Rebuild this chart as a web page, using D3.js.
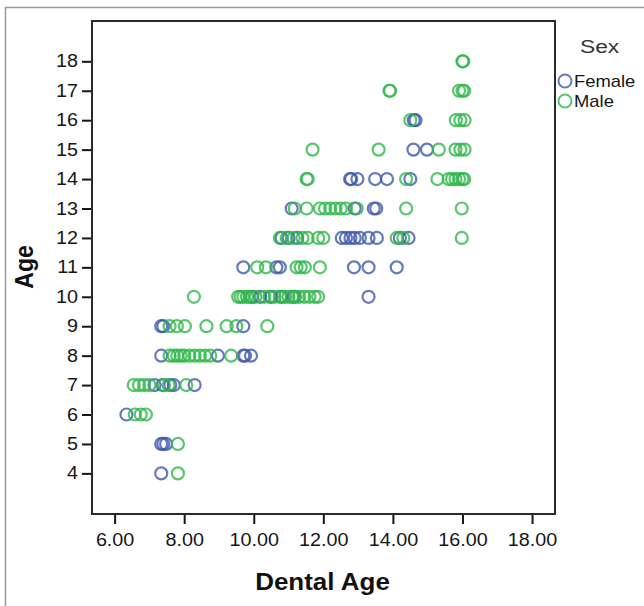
<!DOCTYPE html>
<html>
<head>
<meta charset="utf-8">
<script src="https://cdn.jsdelivr.net/npm/d3@7"></script>
<style>
  html, body { margin: 0; padding: 0; background: #fff; }
  svg { display: block; }
</style>
</head>
<body>
<svg id="chart" width="644" height="606"></svg>
<script>
// Dental age versus chronological age, split by sex
const xTicks = [6, 8, 10, 12, 14, 16, 18];
const yTicks = [4, 5, 6, 7, 8, 9, 10, 11, 12, 13, 14, 15, 16, 17, 18];
const sexLabels = ["Female", "Male"];

const femaleAge = [
  4,
  5, 5, 5,
  6,
  7, 7, 7, 7, 7,
  8, 8, 8, 8, 8,
  9, 9, 9,
  10, 10, 10, 10, 10, 10,
  11, 11, 11, 11, 11, 11,
  12, 12, 12, 12, 12, 12, 12, 12, 12, 12, 12, 12,
  13, 13, 13, 13,
  14, 14, 14, 14, 14, 14,
  15, 15,
  16, 16
];
const femaleDental = [
  7.34,
  7.34, 7.40, 7.48,
  6.34,
  7.15, 7.38, 7.60, 7.70, 8.30,
  7.34, 8.97, 9.70, 9.75, 9.92,
  7.34, 7.40, 9.70,
  9.95, 10.18, 10.50, 10.80, 11.15, 13.30,
  9.70, 10.65, 10.75, 12.88, 13.30, 14.11,
  10.80, 11.00, 11.25, 12.53, 12.65, 12.78, 12.90, 13.05, 13.30, 13.54, 14.20, 14.45,
  11.09, 12.90, 13.45, 13.52,
  12.77, 12.98, 12.80, 13.49, 13.83, 14.50,
  14.59, 14.98,
  14.60, 14.65
];

const maleAge = [
  4,
  5,
  6, 6, 6,
  7, 7, 7, 7, 7, 7, 7,
  8, 8, 8, 8, 8, 8, 8, 8, 8, 8, 8,
  9, 9, 9, 9, 9, 9, 9,
  10, 10, 10, 10, 10, 10, 10, 10, 10, 10, 10, 10, 10, 10, 10, 10, 10, 10, 10, 10,
  11, 11, 11, 11, 11, 11,
  12, 12, 12, 12, 12, 12, 12, 12, 12, 12,
  13, 13, 13, 13, 13, 13, 13, 13, 13, 13, 13,
  14, 14, 14, 14, 14, 14, 14, 14, 14, 14,
  15, 15, 15, 15, 15, 15,
  16, 16, 16, 16,
  17, 17, 17, 17, 17,
  18, 18
];
const maleDental = [
  7.82,
  7.82,
  6.58, 6.75, 6.90,
  6.55, 6.70, 6.85, 7.00, 7.42, 7.55, 8.06,
  7.58, 7.70, 7.80, 7.90, 8.00, 8.15, 8.30, 8.45, 8.60, 8.75, 9.35,
  7.58, 7.79, 8.02, 8.64, 9.22, 9.50, 10.39,
  8.28, 9.55, 9.62, 9.70, 9.80, 9.88, 10.05, 10.30, 10.45, 10.60, 10.75, 10.90, 11.00, 11.10, 11.20, 11.30, 11.45, 11.60, 11.75, 11.85,
  10.10, 10.35, 11.23, 11.35, 11.47, 11.90,
  10.75, 10.95, 11.15, 11.40, 11.55, 11.85, 12.00, 14.11, 14.30, 15.98,
  11.18, 11.52, 11.90, 12.05, 12.20, 12.35, 12.50, 12.65, 12.96, 14.38, 15.98,
  11.52, 11.55, 14.38, 15.28, 15.60, 15.70, 15.80, 15.90, 16.00, 16.05,
  11.69, 13.59, 15.32, 15.80, 15.94, 16.06,
  14.50, 15.81, 15.94, 16.06,
  13.90, 13.92, 15.90, 16.00, 16.05,
  16.00, 16.02
];

const colors = { Female: "#3E58AC", Male: "#2EB848" };
const fontFamily = "'Liberation Sans', Arial, Helvetica, sans-serif";
const ink = "#161616";
const widen = 1.13;   // text is set slightly wide

const svg = d3.select("#chart");

const plot = { left: 92, right: 555, top: 21, bottom: 514 };

const x = d3.scaleLinear().domain([5.35, 18.66]).range([plot.left, plot.right]);
const y = d3.scaleLinear().domain([2.62, 19.37]).range([plot.bottom, plot.top]);

// page border
svg.append("rect")
  .attr("x", 5.5).attr("y", 7.5)
  .attr("width", 700).attr("height", 700)
  .attr("fill", "none").attr("stroke", "#9a9a9a").attr("stroke-width", 1.5);

// axes
const gx = svg.append("g")
  .attr("transform", `translate(0,${plot.bottom})`)
  .call(d3.axisBottom(x).tickValues(xTicks).tickFormat(d3.format(".2f")).tickSize(10).tickPadding(10));
gx.select(".domain").remove();
gx.selectAll(".tick line").attr("stroke", ink).attr("stroke-width", 2);
gx.selectAll(".tick text")
  .attr("font-family", fontFamily).attr("font-size", 17.5).attr("fill", ink)
  .attr("transform", `scale(${widen},1)`);

const gy = svg.append("g")
  .attr("transform", `translate(${plot.left},0)`)
  .call(d3.axisLeft(y).tickValues(yTicks).tickFormat(d3.format("d")).tickSize(10).tickPadding(2.5));
gy.select(".domain").remove();
gy.selectAll(".tick line").attr("stroke", ink).attr("stroke-width", 2);
gy.selectAll(".tick text")
  .attr("font-family", fontFamily).attr("font-size", 17.5).attr("fill", ink)
  .attr("transform", `scale(${widen},1)`);

// plot frame
svg.append("rect")
  .attr("x", plot.left).attr("y", plot.top)
  .attr("width", plot.right - plot.left).attr("height", plot.bottom - plot.top)
  .attr("fill", "none").attr("stroke", "#2a2a2a").attr("stroke-width", 2);

// points
function drawSeries(dental, age, color) {
  svg.append("g")
    .selectAll("circle")
    .data(dental.map((d, i) => ({ dental: d, age: age[i] })))
    .join("circle")
    .attr("cx", d => x(d.dental))
    .attr("cy", d => y(d.age))
    .attr("r", 6)
    .attr("fill", "none")
    .attr("stroke", color)
    .attr("stroke-width", 2.2)
    .attr("stroke-opacity", 0.8);
}
drawSeries(femaleDental, femaleAge, colors.Female);
drawSeries(maleDental, maleAge, colors.Male);

// axis titles
svg.append("text")
  .attr("transform", `translate(322.5,590) scale(${widen},1)`)
  .attr("text-anchor", "middle")
  .attr("font-family", fontFamily).attr("font-size", 23).attr("font-weight", "bold")
  .attr("fill", "#111")
  .text("Dental Age");

svg.append("text")
  .attr("transform", `translate(33,267) scale(${widen},1) rotate(-90)`)
  .attr("text-anchor", "middle")
  .attr("font-family", fontFamily).attr("font-size", 23).attr("font-weight", "bold")
  .attr("fill", "#111")
  .text("Age");

// legend
const legend = svg.append("g");
legend.append("text")
  .attr("transform", "translate(580,53) scale(1.2,1)")
  .attr("font-family", fontFamily).attr("font-size", 19).attr("fill", "#333")
  .text("Sex");

sexLabels.forEach((s, i) => {
  const cy = 81 + i * 20;
  legend.append("circle")
    .attr("cx", 565).attr("cy", cy).attr("r", 6.5)
    .attr("fill", "none").attr("stroke", colors[s]).attr("stroke-width", 2)
    .attr("stroke-opacity", 0.8);
  legend.append("text")
    .attr("transform", `translate(574,${cy + 6}) scale(1.15,1)`)
    .attr("font-family", fontFamily).attr("font-size", 16).attr("fill", ink)
    .text(s);
});
</script>
</body>
</html>
